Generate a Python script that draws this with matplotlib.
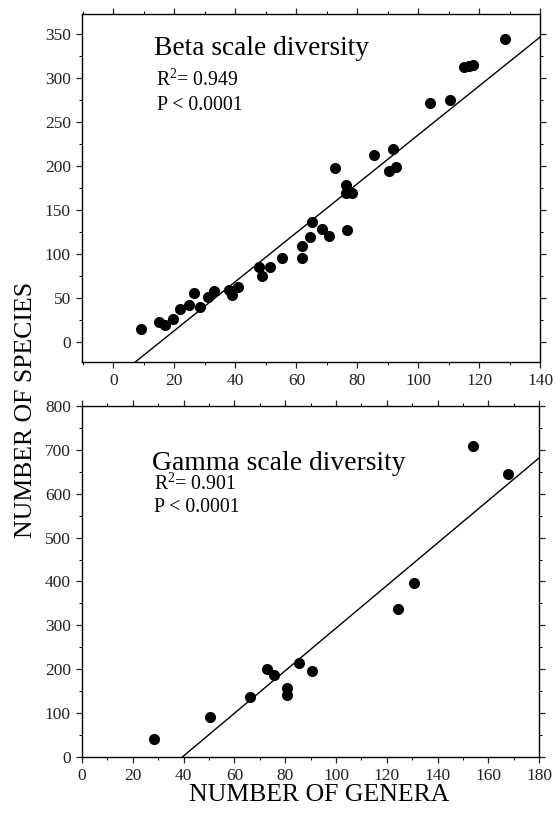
import matplotlib
matplotlib.use("Agg")
import matplotlib.pyplot as plt
import numpy as np
from matplotlib.ticker import MultipleLocator

plt.rcParams['font.family'] = ['Liberation Serif', 'DejaVu Serif']
plt.rcParams['mathtext.fontset'] = 'custom'
plt.rcParams['mathtext.rm'] = 'Liberation Serif'
plt.rcParams['mathtext.it'] = 'Liberation Serif:italic'

# Beta scale data
beta_genera = [9, 15, 17, 19.5, 21.7, 24.7, 26.5, 28.3, 31, 33, 38, 38.8, 40.7,
               47.6, 48.8, 51.3, 55.3, 61.9, 61.9, 64.4, 65.1, 68.4, 70.6, 72.8,
               76.1, 76.4, 78.3, 76.6, 85.3, 90.3, 92.5, 91.7, 103.7, 110.5, 115,
               116.5, 118, 128.5]
beta_species = [15, 23, 19, 26.6, 37, 42, 56, 40, 51, 58, 59, 53, 63,
                85, 75, 85, 95, 109, 96, 119, 137, 129, 120, 198,
                178, 169, 170, 127, 213, 194, 199, 219, 272, 275, 313,
                314, 315, 344]
beta_slope, beta_intercept = 2.784, -42.7

# Gamma scale data
gamma_genera = [28.5, 50.4, 66.1, 72.7, 75.7, 80.6, 80.6, 85.6, 90.7, 124.5,
                130.7, 153.8, 167.8]
gamma_species = [40, 91, 137, 200, 186, 158, 141, 215, 196, 338, 396, 708, 646]
gamma_slope, gamma_intercept = 4.854, -191.7

beta_xticks = [0, 20, 40, 60, 80, 100, 120, 140]
beta_yticks = [0, 50, 100, 150, 200, 250, 300, 350]
gamma_xticks = [0, 20, 40, 60, 80, 100, 120, 140, 160, 180]
gamma_yticks = [0, 100, 200, 300, 400, 500, 600, 700, 800]

fig = plt.figure(figsize=(5.55, 8.18), dpi=100)
ax1 = fig.add_axes([0.1477, 0.5575, 0.826, 0.4254])
ax2 = fig.add_axes([0.1477, 0.0746, 0.824, 0.4291])


def style(ax, xticks, yticks, xminor, yminor):
    ax.set_xticks(xticks)
    ax.set_yticks(yticks)
    ax.xaxis.set_minor_locator(MultipleLocator(xminor))
    ax.yaxis.set_minor_locator(MultipleLocator(yminor))
    for s in ax.spines.values():
        s.set_linewidth(1.0)
    ax.tick_params(which='major', direction='out', length=4, width=0.9,
                   labelsize=12.5, pad=4, colors='#222222')
    ax.tick_params(which='minor', direction='out', length=2, width=0.7)
    ax.tick_params(which='both', top=True, right=True)
    ax.xaxis.set_tick_params(which='both', labeltop=False)


# Top panel
ax1.scatter(beta_genera, beta_species, s=64, c='black', zorder=3, linewidths=0)
xl = np.array([-10, 140])
ax1.plot(xl, beta_slope * xl + beta_intercept, color='black', lw=1.0)
ax1.set_xlim(-10.3, 140)
ax1.set_ylim(-22.7, 373)
style(ax1, beta_xticks, beta_yticks, 10, 25)
ax1.text(13.4, 326.5, 'Beta scale diversity', fontsize=19.7, va='baseline')
ax1.text(14.1, 291, r'$\mathrm{R}^{2}$= 0.949', fontsize=14.2, va='baseline')
ax1.text(14.4, 264, 'P < 0.0001', fontsize=14.2, va='baseline')

# Bottom panel
ax2.scatter(gamma_genera, gamma_species, s=64, c='black', zorder=3, linewidths=0)
xl2 = np.array([0, 180])
ax2.plot(xl2, gamma_slope * xl2 + gamma_intercept, color='black', lw=1.0)
ax2.set_xlim(0, 180)
ax2.set_ylim(0, 800)
style(ax2, gamma_xticks, gamma_yticks, 10, 50)
ax2.text(27.4, 654.7, 'Gamma scale diversity', fontsize=19.9, va='baseline')
ax2.text(28.3, 609, r'$\mathrm{R}^{2}$= 0.901', fontsize=14.2, va='baseline')
ax2.text(28.3, 558, 'P < 0.0001', fontsize=14.2, va='baseline')

fig.text(0.047, 0.499, 'NUMBER OF SPECIES', rotation=90, ha='center',
         va='center', fontsize=18.5)
fig.text(0.5757, 0.028, 'NUMBER OF GENERA', ha='center', va='center',
         fontsize=18.5)

fig.savefig('out.png', dpi=100)
